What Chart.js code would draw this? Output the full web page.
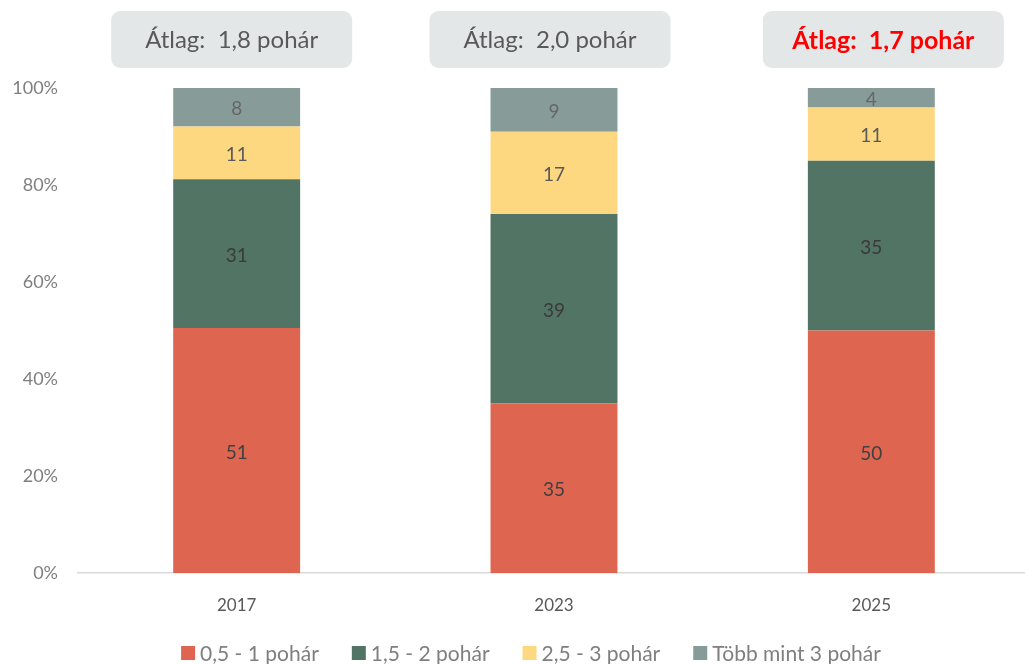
<!DOCTYPE html>
<html><head><meta charset="utf-8">
<script src="https://cdn.jsdelivr.net/npm/chart.js@4"></script>
<style>html,body{margin:0;padding:0;overflow:hidden;background:#fff}</style>
</head><body>
<canvas id="c" width="1030" height="664" style="display:block;width:1030px;height:664px"></canvas>
<script>
// Daily consumption, share of respondents (%) by year
const years = ['2017', '2023', '2025'];
const seriesNames = ['0,5 - 1 pohár', '1,5 - 2 pohár', '2,5 - 3 pohár', 'Több mint 3 pohár'];
const s05to1 = [51, 35, 50];
const s15to2 = [31, 39, 35];
const s25to3 = [11, 17, 11];
const sOver3 = [8, 9, 4];
const averages = ['1,8', '2,0', '1,7'];
const yTicks = [0, 20, 40, 60, 80, 100];

const FONT = 'Lato, "Open Sans", sans-serif';
const colors = ['#de6650', '#517464', '#fdd880', '#879c98'];
const labelColors = ['#404040', '#3a3a3a', '#595959', '#666666'];
const series = [s05to1, s15to2, s25to3, sOver3];
const totals = years.map((_, i) => series.reduce((s, arr) => s + arr[i], 0));

const datasets = series.map((vals, k) => ({
  label: seriesNames[k],
  data: vals.map((v, i) => v / totals[i] * 100),
  raw: vals,
  backgroundColor: colors[k],
  borderWidth: 0,
  categoryPercentage: 0.4,
  barPercentage: 1.0
}));

// value labels centred in each segment
const valueLabels = {
  id: 'valueLabels',
  afterDatasetsDraw(chart) {
    const ctx = chart.ctx;
    ctx.save();
    ctx.font = '19px ' + FONT;
    ctx.textAlign = 'center';
    ctx.textBaseline = 'middle';
    chart.data.datasets.forEach((ds, k) => {
      chart.getDatasetMeta(k).data.forEach((bar, i) => {
        ctx.fillStyle = labelColors[k];
        ctx.fillText(String(ds.raw[i]), bar.x, (bar.y + bar.base) / 2 + 2);
      });
    });
    ctx.restore();
  }
};

// average boxes above each bar
const averageBoxes = {
  id: 'averageBoxes',
  afterDraw(chart) {
    const ctx = chart.ctx;
    const xs = chart.scales.x;
    const shifts = [-5, -4, 12];
    const w = 241, h = 57, top = 11, r = 9;
    ctx.save();
    averages.forEach((a, i) => {
      const cx = xs.getPixelForValue(i) + shifts[i];
      ctx.fillStyle = '#e4e7e8';
      ctx.beginPath();
      ctx.roundRect(cx - w / 2, top, w, h, r);
      ctx.fill();
      const last = i === averages.length - 1;
      ctx.fillStyle = last ? '#ff0000' : '#595959';
      ctx.font = (last ? 'bold 25px ' : '24px ') + FONT;
      ctx.textAlign = 'center';
      ctx.textBaseline = 'middle';
      ctx.fillText('Átlag:  ' + a + ' pohár', cx, top + h / 2 + 1);
    });
    ctx.restore();
  }
};

// legend row under the axis
const bottomLegend = {
  id: 'bottomLegend',
  afterDraw(chart) {
    const ctx = chart.ctx;
    ctx.save();
    ctx.font = '21px ' + FONT;
    ctx.textBaseline = 'middle';
    const box = 14, gap = 5, itemGap = 33;
    const items = chart.data.datasets.map(ds => ({ text: ds.label, color: ds.backgroundColor, w: ctx.measureText(ds.label).width }));
    const total = items.reduce((s, it) => s + box + gap + it.w, 0) + itemGap * (items.length - 1);
    let x = 531 - total / 2;
    const cy = 653;
    items.forEach(it => {
      ctx.fillStyle = it.color;
      ctx.fillRect(x, cy - box / 2, box, box);
      x += box + gap;
      ctx.fillStyle = '#7f7f7f';
      ctx.textAlign = 'left';
      ctx.fillText(it.text, x, cy + 1);
      x += it.w + itemGap;
    });
    ctx.restore();
  }
};

new Chart(document.getElementById('c'), {
  type: 'bar',
  data: { labels: years, datasets },
  options: {
    responsive: false,
    animation: false,
    layout: { padding: { top: 88, bottom: 31, left: 0, right: 0 } },
    plugins: { legend: { display: false }, tooltip: { enabled: false } },
    scales: {
      x: {
        stacked: true,
        grid: { display: false },
        border: { display: true, color: '#d9d9d9', width: 1.5 },
        ticks: { color: '#595959', font: { family: FONT, size: 17 }, padding: 14 },
        afterFit(s) { s.height = 60; }
      },
      y: {
        stacked: true,
        min: 0, max: 100,
        afterBuildTicks(s) { s.ticks = yTicks.map(v => ({ value: v })); },
        grid: { display: false, drawTicks: false },
        border: { display: false },
        ticks: { color: '#7f7f7f', font: { family: FONT, size: 18 }, padding: 20, callback: v => v + '%' },
        afterFit(s) { s.width = 78; }
      }
    }
  },
  plugins: [valueLabels, averageBoxes, bottomLegend]
});
</script>
</body></html>
